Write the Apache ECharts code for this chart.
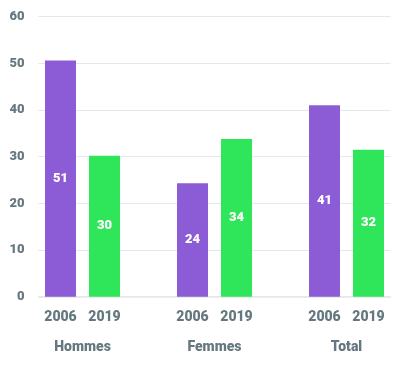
<!DOCTYPE html>
<html>
<head>
<meta charset="utf-8">
<script src="https://cdn.jsdelivr.net/npm/echarts@6/dist/echarts.min.js"></script>
<style>html,body{margin:0;padding:0;background:#fff}#c{width:400px;height:370px}</style>
</head>
<body>
<div id="c"></div>
<script>
var groups = ['Hommes', 'Femmes', 'Total'];
var years = ['2006', '2019'];
var values2006 = [50.6, 24.3, 41.0];
var values2019 = [30.2, 33.8, 31.5];
var yTicks = [0, 10, 20, 30, 40, 50, 60];

var purple = '#8c5bd6', green = '#2fe65a';
var labelGrey = '#66787f';
var fam = 'Roboto, "Liberation Sans", sans-serif';

// 8 slots: [2006, 2019, gap, 2006, 2019, gap, 2006, 2019]
var cats = [], d2006 = [], d2019 = [];
groups.forEach(function (g, i) {
  cats.push(years[0]); d2006.push(values2006[i]); d2019.push(null);
  cats.push(years[1]); d2006.push(null); d2019.push(values2019[i]);
  if (i < groups.length - 1) { cats.push(''); d2006.push(null); d2019.push(null); }
});
// half-slot axis for group names (boundaryGap false, 17 points)
var groupCats = [];
for (var k = 0; k <= cats.length * 2; k++) groupCats.push('');
groups.forEach(function (g, i) { groupCats[2 + i * 6] = g; });

var chart = echarts.init(document.getElementById('c'));
var barLabel = {
  show: true, position: 'inside', color: '#fff',
  fontFamily: fam, fontWeight: 900, fontSize: 13,
  formatter: function (p) { return Math.round(p.value); }
};
chart.setOption({
  animation: false,
  grid: { left: 38.5, right: 9.5, top: 16.7, bottom: 73.3 },
  xAxis: [{
    type: 'category', data: cats,
    axisLine: { lineStyle: { color: '#e3e8e8', width: 1.5 } },
    axisTick: { show: false },
    axisLabel: { color: labelGrey, fontFamily: fam, fontWeight: 900, fontSize: 14, margin: 14, interval: 0 }
  }, {
    type: 'category', data: groupCats, boundaryGap: false, position: 'bottom', offset: 30,
    axisLine: { show: false }, axisTick: { show: false }, splitLine: { show: false },
    axisLabel: { color: labelGrey, fontFamily: fam, fontWeight: 900, fontSize: 14, margin: 14, interval: 0 }
  }],
  yAxis: {
    type: 'value', min: yTicks[0], max: yTicks[yTicks.length - 1], interval: 10,
    axisLine: { show: false }, axisTick: { show: false },
    splitLine: { lineStyle: { color: '#e3e8e8', width: 1 } },
    axisLabel: { color: labelGrey, fontFamily: fam, fontWeight: 900, fontSize: 13, margin: 14 }
  },
  series: [{
    name: years[0], type: 'bar', data: d2006, barWidth: 31, barGap: '-100%',
    itemStyle: { color: purple }, label: barLabel
  }, {
    name: years[1], type: 'bar', data: d2019, barWidth: 31, barGap: '-100%',
    itemStyle: { color: green }, label: barLabel
  }]
});
</script>
</body>
</html>
